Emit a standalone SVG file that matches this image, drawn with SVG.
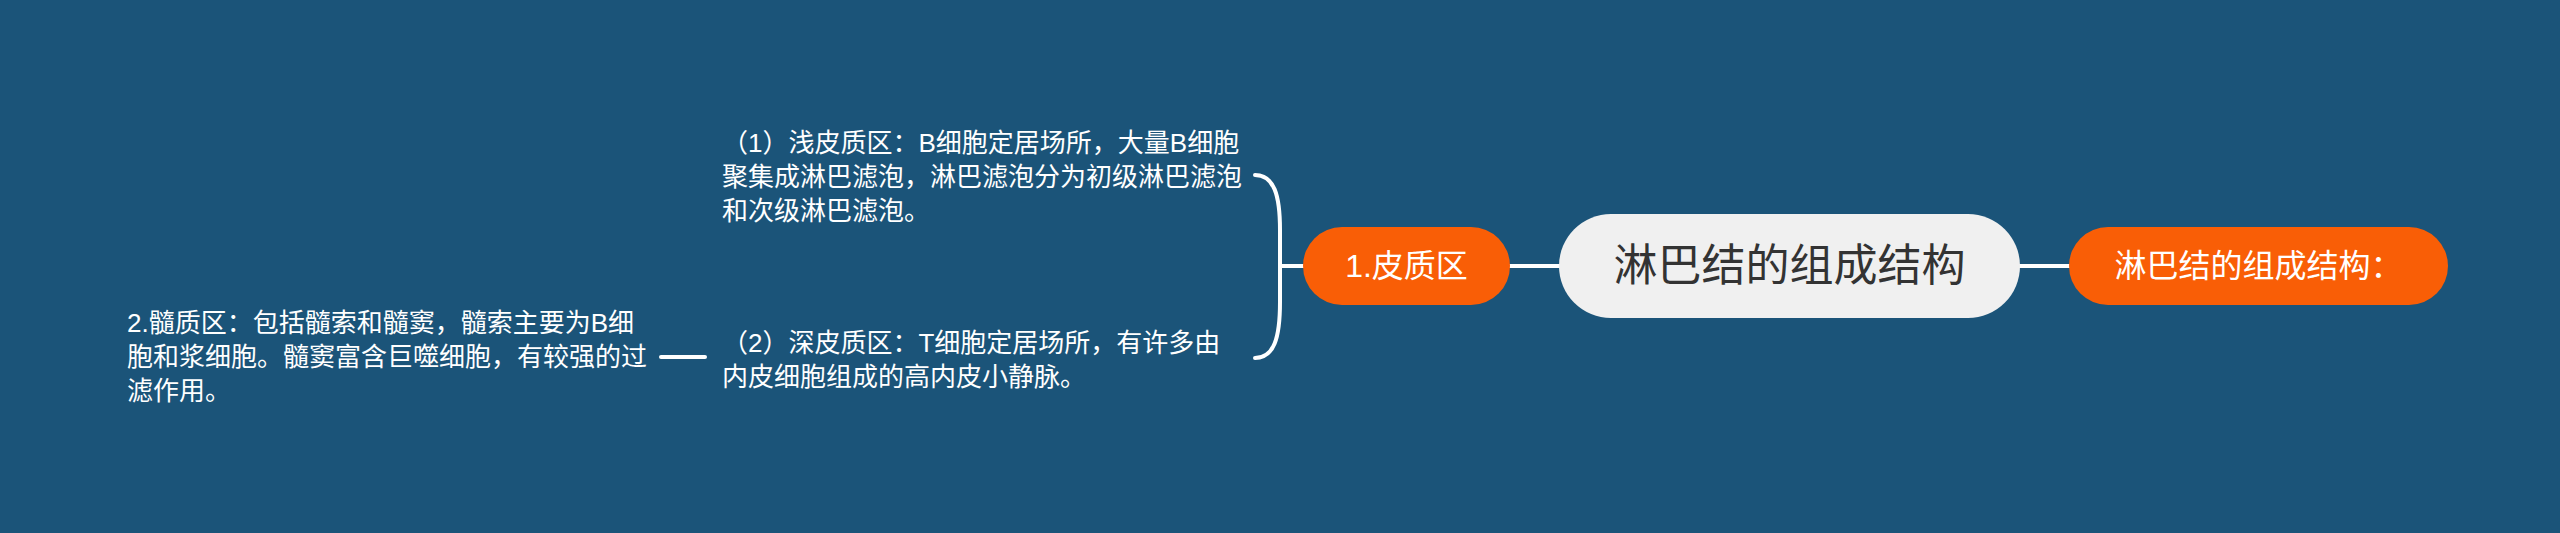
<svg xmlns="http://www.w3.org/2000/svg" width="2560" height="533" viewBox="0 0 2560 533">
<style>
.t{font-family:"Liberation Sans","Noto Sans CJK SC",sans-serif;fill:#ffffff}
.c{fill:none;stroke:#ffffff;stroke-width:4;stroke-linecap:round}
.o{fill:#f95e06}
</style>
<rect width="2560" height="533" fill="#1b5479"/>
<g id="connectors">
<line class="c" x1="1510" y1="266" x2="1560" y2="266"/>
<line class="c" x1="2019" y1="266" x2="2070" y2="266"/>
<path class="c" d="M1255,175 C1274,175 1280,195 1280,230 L1280,302 C1280,338 1274,358 1255,358 M1281,266 L1304,266"/>
<line class="c" x1="661" y1="357" x2="705" y2="357"/>
</g>
<g id="root">
<rect x="1559" y="214" width="461" height="104" rx="52" fill="#f0f0f0"/>
<text class="t" x="1789.5" y="281" font-size="44" text-anchor="middle" style="fill:#333333">淋巴结的组成结构</text>
</g>
<g id="n-cortex">
<rect class="o" x="1303" y="227" width="207" height="78" rx="39"/>
<text class="t" x="1406.5" y="277" font-size="32" text-anchor="middle">1.皮质区</text>
</g>
<g id="n-title">
<rect class="o" x="2069" y="227" width="379" height="78" rx="39"/>
<text class="t" x="2258.5" y="277" font-size="32" text-anchor="middle">淋巴结的组成结构：</text>
</g>
<g id="n-shallow">
<text class="t" font-size="26"><tspan x="722" y="152">（1）浅皮质区：B细胞定居场所，大量B细胞</tspan><tspan x="722" y="186">聚集成淋巴滤泡，淋巴滤泡分为初级淋巴滤泡</tspan><tspan x="722" y="220">和次级淋巴滤泡。</tspan></text>
</g>
<g id="n-deep">
<text class="t" font-size="26"><tspan x="722" y="352">（2）深皮质区：T细胞定居场所，有许多由</tspan><tspan x="722" y="386">内皮细胞组成的高内皮小静脉。</tspan></text>
</g>
<g id="n-medulla">
<text class="t" font-size="26"><tspan x="127" y="332">2.髓质区：包括髓索和髓窦，髓索主要为B细</tspan><tspan x="127" y="366">胞和浆细胞。髓窦富含巨噬细胞，有较强的过</tspan><tspan x="127" y="400">滤作用。</tspan></text>
</g>
</svg>
